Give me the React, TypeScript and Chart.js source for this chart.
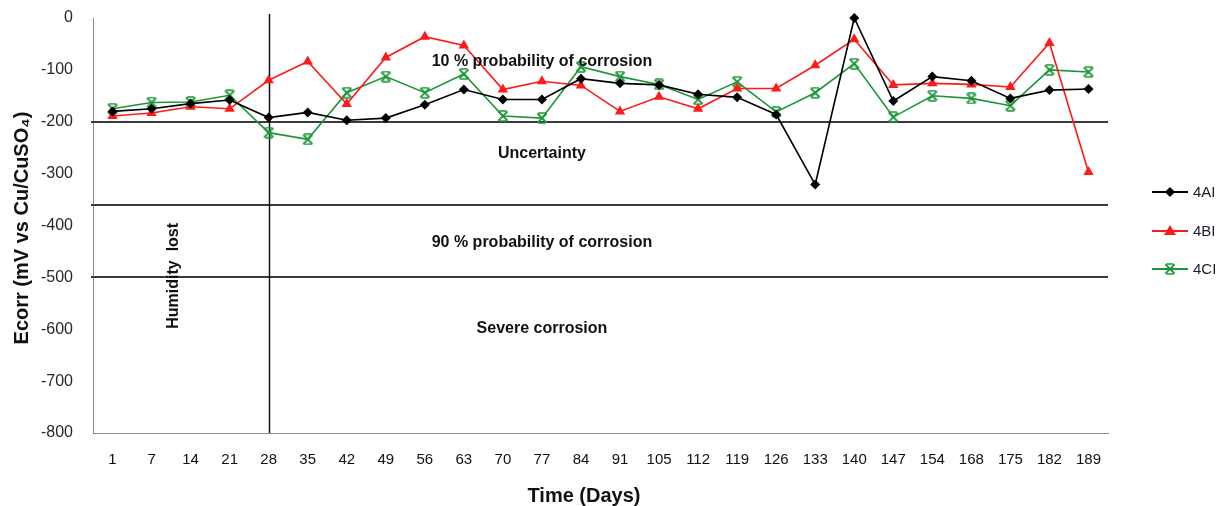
import React, { useEffect, useRef } from "react";
import { Chart, registerables } from "chart.js";

Chart.register(...registerables);

const days = ["1", "7", "14", "21", "28", "35", "42", "49", "56", "63", "70", "77", "84", "91", "105", "112", "119", "126", "133", "140", "147", "154", "168", "175", "182", "189"];

const series4AI = [-180, -175, -165, -158, -192, -182, -197, -193, -167, -138, -157, -157, -117, -126, -129, -147, -153, -186, -321, 0, -160, -113, -121, -155, -139, -137];
const series4BI = [-189, -183, -171, -175, -120, -84, -166, -76, -36, -53, -138, -122, -130, -180, -152, -175, -136, -136, -91, -41, -129, -126, -128, -133, -48, -297];
const series4CI = [-175, -163, -162, -149, -221, -234, -144, -113, -144, -108, -189, -193, -94, -113, -128, -157, -123, -181, -144, -88, -191, -150, -155, -169, -100, -104];

const seriesNames = ["4AI", "4BI", "4CI"];
const zoneLimits = [-200, -360, -500];
const humidityLostDay = "28";
const zoneLabels = ["10 % probability of corrosion", "Uncertainty", "90 % probability of corrosion", "Severe corrosion"];
const zoneLabelValues = [-84, -261, -433, -599];
const yTitle = "Ecorr (mV vs Cu/CuSO\u2084)";
const xTitle = "Time (Days)";
const humidityLabel = "Humidity  lost";

const FONT = '"Liberation Sans", Arial, sans-serif';

function makeStarMarker(color: string) {
  const c = document.createElement("canvas");
  c.width = 12;
  c.height = 12;
  const ctx = c.getContext("2d")!;
  ctx.strokeStyle = color;
  ctx.lineWidth = 1.8;
  ctx.lineCap = "square";
  ctx.beginPath();
  ctx.moveTo(2, 2);
  ctx.lineTo(10, 10);
  ctx.moveTo(10, 2);
  ctx.lineTo(2, 10);
  ctx.stroke();
  ctx.lineWidth = 1.4;
  ctx.beginPath();
  ctx.moveTo(3, 1);
  ctx.lineTo(9, 1);
  ctx.moveTo(3, 11);
  ctx.lineTo(9, 11);
  ctx.stroke();
  return c;
}

export default function App() {
  const ref = useRef<HTMLCanvasElement>(null);

  useEffect(() => {
    const canvas = ref.current!;
    const green = "#1b9637";
    const star = makeStarMarker(green);
    const colors = ["#000000", "#ff1a1a", green];
    const styles: any[] = ["rectRot", "triangle", star];
    const radii = [5, 6, 6];

    const overlay = {
      id: "overlay",
      beforeDatasetsDraw(chart: any) {
        const { ctx, chartArea, scales } = chart;
        const y = scales.y;
        const x = scales.x;
        ctx.save();
        ctx.strokeStyle = "#3a3a3a";
        ctx.lineWidth = 2;
        zoneLimits.forEach((v) => {
          const py = Math.round(y.getPixelForValue(v));
          ctx.beginPath();
          ctx.moveTo(chartArea.left - 2, py);
          ctx.lineTo(chartArea.right, py);
          ctx.stroke();
        });
        const idx = days.indexOf(humidityLostDay);
        const px = Math.round(x.getPixelForValue(idx)) + 0.5;
        ctx.strokeStyle = "#111";
        ctx.lineWidth = 1.5;
        ctx.beginPath();
        ctx.moveTo(px, chartArea.top - 4);
        ctx.lineTo(px, chartArea.bottom);
        ctx.stroke();
        ctx.restore();
      },
      afterDraw(chart: any) {
        const { ctx, chartArea, scales } = chart;
        const y = scales.y;
        const x = scales.x;
        ctx.save();
        ctx.fillStyle = "#111";
        ctx.textAlign = "center";
        ctx.textBaseline = "middle";
        ctx.font = `bold 16px ${FONT}`;
        const cx = x.getPixelForValue(11);
        zoneLabels.forEach((t, i) => {
          ctx.fillText(t, cx, y.getPixelForValue(zoneLabelValues[i]));
        });
        // humidity lost (vertical)
        ctx.save();
        ctx.translate(chartArea.left + 81, y.getPixelForValue(-497));
        ctx.rotate(-Math.PI / 2);
        ctx.fillText(humidityLabel, 0, 0);
        ctx.restore();
        // y title
        ctx.save();
        ctx.font = `bold 20px ${FONT}`;
        ctx.translate(22, 228);
        ctx.rotate(-Math.PI / 2);
        ctx.fillText(yTitle, 0, 0);
        ctx.restore();
        // x title
        ctx.font = `bold 20px ${FONT}`;
        ctx.fillText(xTitle, 584, 496);
        // legend
        const lx0 = 1152;
        const lx1 = 1188;
        const ly = [192, 231, 269];
        seriesNames.forEach((name, i) => {
          const yy = ly[i];
          ctx.strokeStyle = colors[i];
          ctx.lineWidth = 2;
          ctx.beginPath();
          ctx.moveTo(lx0, yy);
          ctx.lineTo(lx1, yy);
          ctx.stroke();
          const mx = (lx0 + lx1) / 2;
          ctx.fillStyle = colors[i];
          if (i === 0) {
            ctx.beginPath();
            ctx.moveTo(mx, yy - 5);
            ctx.lineTo(mx + 5, yy);
            ctx.lineTo(mx, yy + 5);
            ctx.lineTo(mx - 5, yy);
            ctx.closePath();
            ctx.fill();
          } else if (i === 1) {
            ctx.beginPath();
            ctx.moveTo(mx, yy - 6);
            ctx.lineTo(mx + 6, yy + 4);
            ctx.lineTo(mx - 6, yy + 4);
            ctx.closePath();
            ctx.fill();
          } else {
            ctx.drawImage(star, mx - 6, yy - 6);
          }
          ctx.fillStyle = "#1a1a2a";
          ctx.font = `15px ${FONT}`;
          ctx.textAlign = "left";
          ctx.fillText(name, lx1 + 5, yy + 1);
        });
        ctx.restore();
      },
    };

    const data = [series4AI, series4BI, series4CI];
    const chart = new Chart(canvas, {
      type: "line",
      data: {
        labels: days,
        datasets: data.map((d, i) => ({
          label: seriesNames[i],
          data: d,
          borderColor: colors[i],
          backgroundColor: colors[i],
          borderWidth: 1.6,
          pointStyle: styles[i],
          pointRadius: radii[i],
          pointBorderWidth: 0,
          pointHoverRadius: radii[i],
          tension: 0,
          clip: false as any,
        })),
      },
      options: {
        responsive: false,
        animation: false,
        events: [],
        layout: { padding: { top: 18, right: 112, left: 0, bottom: 0 } },
        plugins: {
          legend: { display: false },
          tooltip: { enabled: false },
          title: { display: false },
        },
        scales: {
          x: {
            type: "category",
            offset: true,
            grid: { display: false, drawTicks: false },
            border: { display: true, color: "#8c8c8c", width: 1 },
            ticks: {
              color: "#111",
              font: { family: FONT, size: 15 },
              padding: 18,
              maxRotation: 0,
              autoSkip: false,
            },
            afterFit(scale: any) {
              scale.height = 73;
              scale.paddingLeft = 0;
              scale.paddingRight = 0;
            },
          },
          y: {
            type: "linear",
            min: -800,
            max: 0,
            grid: { display: false, drawTicks: false },
            border: { display: true, color: "#8c8c8c", width: 1 },
            ticks: {
              stepSize: 100,
              color: "#262626",
              font: { family: FONT, size: 16 },
              padding: 20,
            },
            afterFit(scale: any) {
              scale.width = 93;
              scale.paddingTop = 0;
              scale.paddingBottom = 0;
            },
          },
        },
      },
      plugins: [overlay],
    });
    return () => chart.destroy();
  }, []);

  return (
    <div style={{ position: "absolute", left: 0, top: 0, width: 1220, height: 506, background: "#fff" }}>
      <canvas ref={ref} width={1220} height={506} />
    </div>
  );
}
